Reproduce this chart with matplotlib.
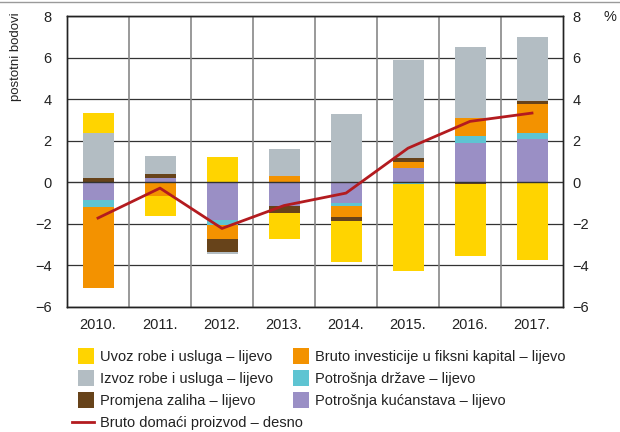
import numpy as np
import matplotlib
matplotlib.use("Agg")
import matplotlib.pyplot as plt
from matplotlib import font_manager
from matplotlib.patches import Rectangle
from matplotlib.lines import Line2D
from matplotlib.legend_handler import HandlerPatch

# ---- data ----
years = ['2010.', '2011.', '2012.', '2013.', '2014.', '2015.', '2016.', '2017.']
households = [-0.86, 0.19, -1.82, -1.13, -1.00, 0.69, 1.88, 2.09]
government = [-0.35, 0.00, -0.23, 0.00, -0.16, -0.08, 0.37, 0.29]
investment = [-3.86, -0.65, -0.66, 0.32, -0.53, 0.30, 0.85, 1.39]
inventories = [0.22, 0.23, -0.65, -0.35, -0.18, 0.18, -0.08, 0.12]
exports = [2.15, 0.86, -0.08, 1.29, 3.30, 4.69, 3.39, 3.11]
imports = [0.96, -0.96, 1.21, -1.26, -1.95, -4.20, -3.47, -3.72]
gdp = [-1.72, -0.28, -2.22, -1.12, -0.52, 1.64, 2.93, 3.33]

left_ticks = [-6, -4, -2, 0, 2, 4, 6, 8]

# ---- fonts ----
names = {f.name for f in font_manager.fontManager.ttflist}
fam = 'Liberation Sans Narrow' if 'Liberation Sans Narrow' in names else 'Liberation Sans'
plt.rcParams['font.family'] = [fam, 'DejaVu Sans']
plt.rcParams['axes.unicode_minus'] = True

C_YEL = '#FFD400'
C_GRY = '#B3BDC3'
C_BRN = '#67431A'
C_ORG = '#F39200'
C_CYN = '#5EC4D2'
C_PUR = '#9A8FC5'
C_RED = '#B31B1F'

series = [
    (households, C_PUR, 'Potrošnja kućanstava – lijevo'),
    (government, C_CYN, 'Potrošnja države – lijevo'),
    (investment, C_ORG, 'Bruto investicije u fiksni kapital – lijevo'),
    (inventories, C_BRN, 'Promjena zaliha – lijevo'),
    (exports, C_GRY, 'Izvoz robe i usluga – lijevo'),
    (imports, C_YEL, 'Uvoz robe i usluga – lijevo'),
]

W, H = 620, 432
fig = plt.figure(figsize=(W / 100, H / 100), dpi=100)
ax = fig.add_axes([67 / W, 1 - 307 / H, 496 / W, 291 / H])

x = np.arange(len(years))
pos = np.zeros(len(years))
neg = np.zeros(len(years))
handles = {}
for vals, col, lab in series:
    v = np.array(vals, dtype=float)
    bottoms = np.where(v >= 0, pos, neg)
    b = ax.bar(x, v, width=0.5, bottom=bottoms, color=col, edgecolor='none',
               zorder=3, label=lab)
    handles[lab] = b
    pos = pos + np.where(v >= 0, v, 0)
    neg = neg + np.where(v < 0, v, 0)

ax.set_xlim(-0.5, len(years) - 0.5)
ax.set_ylim(-6, 8)
ax.set_yticks(left_ticks)
ax.set_xticks(x)
ax.set_xticklabels(years)

# grid
for t in left_ticks:
    if t != 0:
        ax.axhline(t, color='#333333', lw=0.9, zorder=1)
for xv in np.arange(0.5, len(years) - 0.5, 1):
    ax.axvline(xv, color='#888888', lw=1.2, zorder=1)
ax.axhline(0, color='#333333', lw=1.0, zorder=5)

ax2 = ax.twinx()
ax2.set_ylim(-6, 8)
ax2.set_yticks(left_ticks)
line, = ax2.plot(x, gdp, color=C_RED, lw=2.0, zorder=6,
                 label='Bruto domaći proizvod – desno')

for a in (ax, ax2):
    for s in a.spines.values():
        s.set_color('#222222')
        s.set_linewidth(1.0)
ax.tick_params(axis='y', length=0, pad=11, labelsize=10.5, colors='#222222')
ax.tick_params(axis='x', length=0, pad=8, labelsize=10.5, colors='#222222')
ax2.tick_params(axis='y', length=0, pad=7, labelsize=10.5, colors='#222222')

fig.text(10 / W, 1 - 12 / H, 'postotni bodovi', rotation=90, ha='left', va='top',
         fontsize=9.5, color='#222222')
fig.text(603 / W, 1 - 17 / H, '%', ha='left', va='center', fontsize=10.5,
         color='#222222')

# top rule
fig.add_artist(Line2D([0, 1], [1 - 2 / H, 1 - 2 / H], color='#9a9a9a', lw=1.0,
                      transform=fig.transFigure))


class SquareHandler(HandlerPatch):
    def create_artists(self, legend, orig_handle, xdescent, ydescent, width,
                       height, fontsize, trans):
        s = fontsize * 1.1
        p = Rectangle((width - s - xdescent, -ydescent + (height - s) / 2), s, s,
                      facecolor=orig_handle.get_facecolor(), edgecolor='none',
                      transform=trans)
        return [p]


def patch_of(lab):
    return handles[lab].patches[0]

col1_labels = ['Uvoz robe i usluga – lijevo', 'Izvoz robe i usluga – lijevo',
               'Promjena zaliha – lijevo']
col2_labels = ['Bruto investicije u fiksni kapital – lijevo',
               'Potrošnja države – lijevo', 'Potrošnja kućanstava – lijevo']

common = dict(loc='upper left', frameon=False, fontsize=10.5, handlelength=1.5,
              handletextpad=0.4, labelspacing=0.55, borderaxespad=0, borderpad=0,
              labelcolor='#222222')

h1 = [patch_of(l) for l in col1_labels] + [line]
l1 = col1_labels + ['Bruto domaći proizvod – desno']
hm = {p: SquareHandler() for p in h1[:3]}
leg1 = fig.legend(h1, l1, bbox_to_anchor=(72 / W, 1 - 350 / H),
                  handler_map=hm, **common)
h2 = [patch_of(l) for l in col2_labels]
hm2 = {p: SquareHandler() for p in h2}
leg2 = fig.legend(h2, col2_labels, bbox_to_anchor=(287 / W, 1 - 350 / H),
                  handler_map=hm2, **common)

fig.savefig('out.png', dpi=100)
